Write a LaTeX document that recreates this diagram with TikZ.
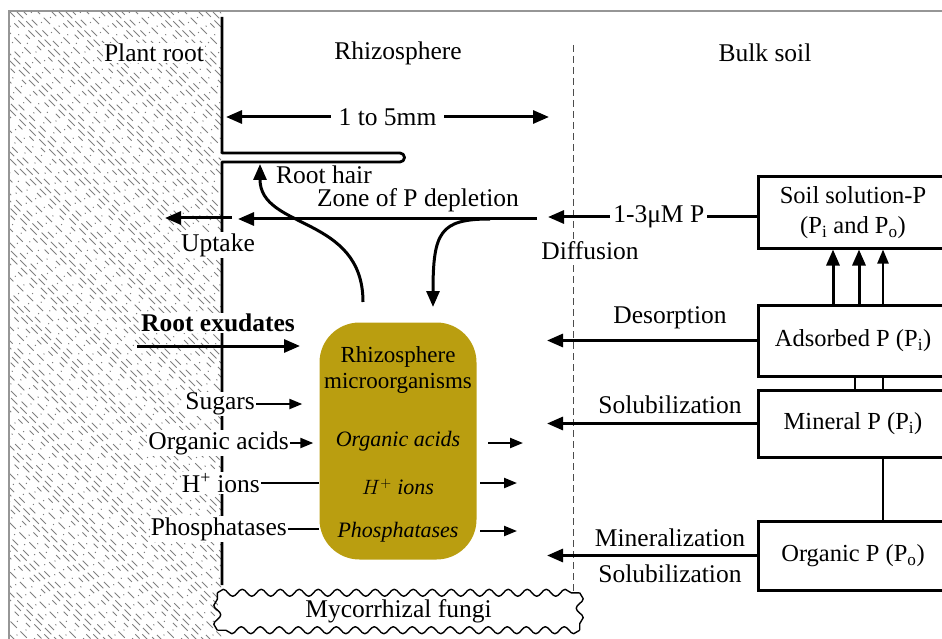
\documentclass[tikz,border=0pt]{standalone}
\usepackage{fontspec}
\setmainfont{Liberation Serif}
\usetikzlibrary{arrows.meta,decorations.pathmorphing}
\definecolor{microbe}{RGB}{186,158,16}
\definecolor{framegray}{RGB}{150,150,150}
\begin{document}
\begin{tikzpicture}[x=1pt,y=-1pt,
  every node/.style={font=\fontsize{25.5}{27}\selectfont, inner sep=1pt},
  lbl/.style={fill=white},
  itl/.style={font=\fontsize{22}{24}\selectfont\itshape},
  bigarr/.style={line width=3pt, -{Triangle[length=16pt,width=13pt]}},
  dblarr/.style={line width=3pt, {Triangle[length=16pt,width=13pt]}-{Triangle[length=16pt,width=13pt]}},
  smallarr/.style={line width=2.2pt, -{Triangle[length=13pt,width=10pt]}},
  plainline/.style={line width=2.2pt},
  pbox/.style={draw, line width=3pt, minimum width=189pt, anchor=west, align=center, font=\fontsize{24.5}{30}\selectfont},
  hatchbase/.style={black!50, line width=0.8pt},
  hatch0/.style={hatchbase, dash pattern=on 9pt off 4pt},
  hatch1/.style={hatchbase, dash pattern=on 8pt off 7pt, dash phase=4pt},
  hatch2/.style={hatchbase, dash pattern=on 1.2pt off 13pt},
  hatch3/.style={hatchbase, dash pattern=on 9pt off 5pt, dash phase=6pt},
  hatch4/.style={hatchbase, dash pattern=on 1.2pt off 11pt, dash phase=5pt},
  hatch5/.style={hatchbase, dash pattern=on 6pt off 10pt},
  hatch6/.style={hatchbase, dash pattern=on 9pt off 5pt, dash phase=2pt},
  zoneline/.style={black!70, line width=1pt, dash pattern=on 7pt off 4pt},
  fungibox/.style={fill=white, minimum width=362pt, minimum height=37pt},
  wavy/.style={line width=1.4pt, line join=round, decorate, decoration={snake, amplitude=3.5pt, segment length=19pt}}
]
\useasboundingbox (0,0) rectangle (942,639);
% frame
\draw[framegray, line width=1.2pt] (9,639) -- (9,11) -- (942,11);
% hatched root
\begin{scope}
\clip (10,12) rectangle (221,639);
\foreach \i in {0,...,122} {
  \pgfmathtruncatemacro\m{mod(\i,7)}
  \draw[hatch\m] ({-620+7*\i},12) -- ({-620+7*\i+650},662);
}
\end{scope}
% root wall and root hair
\draw[line width=2.8pt, line join=round] (222,17) -- (222,153) -- (400,153)
  arc[start angle=-90,end angle=90,radius=4.5] -- (222,162) -- (222,585);
% rhizosphere boundary
\draw[zoneline] (573,45) -- (573,595);

% titles
\node[lbl] (tplant) at (154,53) {Plant root};
\node (trhiz) at (398,53) {Rhizosphere};
\node (tbulk) at (765,53) {Bulk soil};

% width arrow
\coordinate (mmL) at (226,117);
\coordinate (mmR) at (549,117);
\draw[dblarr] (mmL) -- node[fill=white, inner xsep=8pt] (mm) {1 to 5mm} (mmR);

\node (rhair) at (324,175) {Root hair};
\node (zone) at (418,200) {Zone of P depletion};

% pools
\node[pbox, minimum height=71pt] (sol) at (757,212.5) {Soil solution-P\\(P\textsubscript{i} and P\textsubscript{o})};
\node[pbox, minimum height=71pt] (ads) at (757,340.5) {Adsorbed P (P\textsubscript{i})};
\node[pbox, minimum height=67pt] (min) at (757,423.5) {Mineral P (P\textsubscript{i})};
\node[pbox, minimum height=69pt] (org) at (757,555.5) {Organic P (P\textsubscript{o})};

\coordinate (ax1) at (833,0);
\coordinate (ax2) at (859,0);
\coordinate (ax3) at (883,0);
\coordinate (bx1) at (855,0);
\draw[bigarr] (ads.north -| ax1) -- (sol.south -| ax1);
\draw[bigarr] (ads.north -| ax2) -- (sol.south -| ax2);
\draw[line width=2.3pt, -{Triangle[length=14pt,width=11pt]}] (ads.north -| ax3) -- (sol.south -| ax3);
\draw[line width=1.5pt] (ads.south -| bx1) -- (min.north -| bx1);
\draw[line width=1.5pt] (ads.south -| ax3) -- (min.north -| ax3);
\draw[line width=1.2pt] (min.south -| ax3) -- (org.north -| ax3);

% flows from pools
\coordinate (tipx) at (547,0);
\coordinate (dT) at (548,217);
\draw[bigarr] (sol.west |- dT) -- node[pos=0.47, fill=white, inner xsep=3pt] (conc) {1-3μM P} (dT);
\node[lbl] (diff) at (590,251) {Diffusion};
\draw[bigarr] (ads.west) -- (ads.west -| tipx);
\node (desorp) at (670,318) {Desorption};
\draw[bigarr] (min.west) -- (min.west -| tipx);
\node (solub1) at (670,405) {Solubilization};
\draw[bigarr] (org.west) -- (org.west -| tipx);
\node (miner) at (670,538) {Mineralization};
\node (solub2) at (670,574) {Solubilization};

% zone of depletion and uptake
\coordinate (zR) at (537,219);
\coordinate (zL) at (238,219);
\draw[bigarr] (zR) -- (zL);
\coordinate (uR) at (232,218);
\coordinate (uL) at (165,218);
\draw[bigarr] (uR) -- (uL);
\node[lbl] (upt) at (218,245) {Uptake};

% microorganisms
\node[fill=microbe, rounded corners=40pt, minimum width=157pt, minimum height=237pt] (mic) at (398,441) {};
\node[align=center, font=\fontsize{23}{26}\selectfont] (mictxt) at (398,370) {Rhizosphere\\microorganisms};
\node[itl] (ioa) at (398,441) {Organic acids};
\node[itl] (ih) at (398,487) {$H^{+}$ ions};
\node[itl] (iph) at (398,532) {Phosphatases};

% curved arrows
\coordinate (c1s) at (363,302);
\coordinate (c1e) at (260,164);
\draw[bigarr] (c1s) .. controls (363,215) and (260,230) .. (c1e);
\coordinate (c2s) at (490,219);
\coordinate (c2e) at (433,307);
\draw[bigarr] (c2s) .. controls (440,219) and (433,232) .. (c2e);

% exudates
\node[lbl, font=\fontsize{25.5}{27}\selectfont\bfseries] (rex) at (218,323) {Root exudates};
\coordinate (rex0) at (137,346);
\coordinate (rex1) at (300,346);
\draw[bigarr] (rex0) -- (rex1);
\node[lbl, anchor=east] (sug) at (256,404) {Sugars};
\draw[smallarr] (sug.east) -- ([xshift=-17pt]mic.west |- sug.east);
\node[lbl, anchor=east] (oac) at (290,443) {Organic acids};
\draw[smallarr] (oac.east) -- ([xshift=-6pt]mic.west |- oac.east);
\node[lbl, anchor=east] (hio) at (261,483) {H\textsuperscript{+} ions};
\draw[plainline] (hio.east) -- (mic.west |- hio.east);
\node[lbl, anchor=east] (pho) at (288,529) {Phosphatases};
\draw[plainline] (pho.east) -- (mic.west |- pho.east);

% outputs from microorganisms
\coordinate (r1s) at (488,443);
\coordinate (r1e) at (523,443);
\coordinate (r2s) at (480,483);
\coordinate (r2e) at (517,483);
\coordinate (r3s) at (480,531);
\coordinate (r3e) at (517,531);
\draw[smallarr] (r1s) -- (r1e);
\draw[smallarr] (r2s) -- (r2e);
\draw[smallarr] (r3s) -- (r3e);

% mycorrhizal fungi
\node[fungibox] (myc) at (398.5,611.5) {Mycorrhizal fungi};
\draw[wavy] (myc.north west) -- (myc.north east);
\draw[wavy] (myc.north east) -- (myc.south east);
\draw[wavy] (myc.south east) -- (myc.south west);
\draw[wavy] (myc.south west) -- (myc.north west);
\end{tikzpicture}
\end{document}
